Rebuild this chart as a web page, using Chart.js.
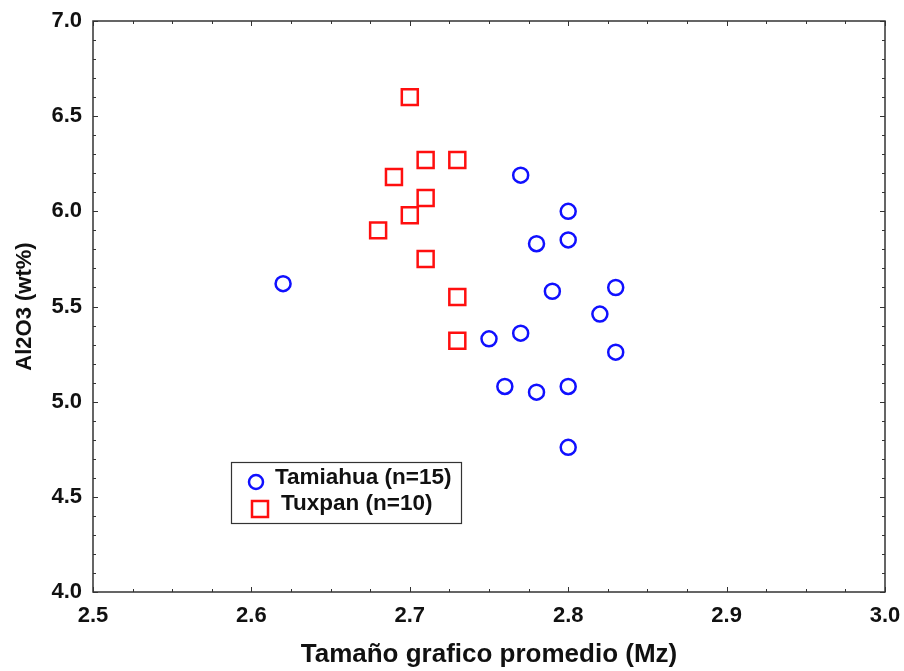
<!DOCTYPE html>
<html>
<head>
<meta charset="utf-8">
<script src="https://cdn.jsdelivr.net/npm/chart.js@4/dist/chart.umd.min.js"></script>
<style>
  html, body { margin: 0; padding: 0; background: #fff; }
  #grafica { display: block; }
</style>
</head>
<body>
<canvas id="grafica" width="904" height="671"></canvas>
<script>
// Tamaño grafico promedio (Mz) vs Al2O3 (wt%)
var tamiahuaMz = [2.62, 2.77, 2.80, 2.80, 2.78, 2.79, 2.83, 2.82, 2.77, 2.75, 2.83, 2.76, 2.78, 2.80, 2.80]
var tamiahuaAl = [5.62, 6.19, 6.00, 5.85, 5.83, 5.58, 5.60, 5.46, 5.36, 5.33, 5.26, 5.08, 5.05, 5.08, 4.76]
var tuxpanMz = [2.70, 2.71, 2.73, 2.69, 2.71, 2.70, 2.68, 2.71, 2.73, 2.73]
var tuxpanAl = [6.60, 6.27, 6.27, 6.18, 6.07, 5.98, 5.90, 5.75, 5.55, 5.32]

var etiquetas = ['Tamiahua (n=15)', 'Tuxpan (n=10)']
var xTicks = [2.5, 2.6, 2.7, 2.8, 2.9, 3.0]
var yTicks = [4.0, 4.5, 5.0, 5.5, 6.0, 6.5, 7.0]

const puntos = (xs, ys) => xs.map((x, i) => ({ x: x, y: ys[i] }))

const fuente = "'Liberation Sans', Arial, sans-serif"
const colorEje = '#333'

// marco del area y marcas hacia adentro en los cuatro lados
const marco = {
  id: 'marco',
  afterDraw(chart) {
    const { ctx, chartArea: a, scales } = chart
    ctx.save()
    ctx.strokeStyle = colorEje
    ctx.lineWidth = 1.5
    ctx.strokeRect(a.left, a.top, a.right - a.left, a.bottom - a.top)
    ctx.lineWidth = 1
    ctx.beginPath()
    const xs = scales.x
    for (let i = 0; i <= 20; i++) {
      const v = xTicks[0] + i * 0.025
      const px = Math.round(xs.getPixelForValue(v)) + 0.5
      const len = i % 4 === 0 ? 5 : 3
      ctx.moveTo(px, a.bottom); ctx.lineTo(px, a.bottom - len)
      ctx.moveTo(px, a.top); ctx.lineTo(px, a.top + len)
    }
    const ys = scales.y
    for (let i = 0; i <= 30; i++) {
      const v = yTicks[0] + i * 0.1
      const py = Math.round(ys.getPixelForValue(v)) + 0.5
      const len = i % 5 === 0 ? 5 : 3
      ctx.moveTo(a.left, py); ctx.lineTo(a.left + len, py)
      ctx.moveTo(a.right, py); ctx.lineTo(a.right - len, py)
    }
    ctx.stroke()
    ctx.restore()
  }
}

// leyenda dentro del area del grafico
const leyenda = {
  id: 'leyenda',
  afterDraw(chart) {
    const { ctx, chartArea: a } = chart
    const left = a.left + 138, top = a.bottom - 130, w = 230, h = 61
    ctx.save()
    ctx.fillStyle = '#fff'
    ctx.fillRect(left, top, w, h)
    ctx.strokeStyle = colorEje
    ctx.lineWidth = 1.2
    ctx.strokeRect(left + 0.5, top + 0.5, w, h)
    ctx.font = 'bold 22.5px ' + fuente
    ctx.textBaseline = 'middle'
    ctx.fillStyle = '#111'
    chart.data.datasets.forEach((ds, i) => {
      const cy = top + 20 + i * 26
      ctx.strokeStyle = ds.borderColor
      ctx.lineWidth = 2.5
      ctx.beginPath()
      if (ds.pointStyle === 'circle') {
        ctx.arc(left + 25, cy, 7, 0, Math.PI * 2)
        ctx.stroke()
        ctx.fillText(ds.label, left + 44, cy - 4)
      } else {
        ctx.strokeRect(left + 21, cy - 7, 16, 16)
        ctx.fillText(ds.label, left + 50, cy - 4)
      }
    })
    ctx.restore()
  }
}

var ctx = document.getElementById('grafica')

var grafica = new Chart(ctx, {
  type: 'scatter',
  data: {
    datasets: [{
      label: etiquetas[0],
      data: puntos(tamiahuaMz, tamiahuaAl),
      pointStyle: 'circle',
      pointRadius: 7.5,
      borderColor: '#1010ff',
      backgroundColor: 'rgba(0,0,0,0)',
      borderWidth: 2.5
    }, {
      label: etiquetas[1],
      data: puntos(tuxpanMz, tuxpanAl),
      pointStyle: 'rect',
      pointRadius: 11.3,
      borderColor: '#ff0f0f',
      backgroundColor: 'rgba(0,0,0,0)',
      borderWidth: 2.5
    }]
  },
  options: {
    responsive: false,
    animation: false,
    devicePixelRatio: 1,
    layout: { padding: { top: 21, right: 19, bottom: 0, left: 0 } },
    plugins: {
      legend: { display: false },
      tooltip: { enabled: false }
    },
    scales: {
      x: {
        type: 'linear',
        min: xTicks[0],
        max: xTicks[xTicks.length - 1],
        afterFit: s => {
          s.height = 79
          s.paddingLeft = 0
          s.paddingRight = 0
        },
        afterBuildTicks: s => { s.ticks = xTicks.map(v => ({ value: v })) },
        grid: { display: false, drawTicks: false },
        border: { display: false },
        ticks: {
          padding: 11,
          color: '#111',
          font: { family: fuente, size: 22, weight: 'bold' },
          callback: v => v.toFixed(1)
        },
        title: {
          display: true,
          text: 'Tamaño grafico promedio (Mz)',
          color: '#111',
          font: { family: fuente, size: 26, weight: 'bold' },
          padding: { top: 0, bottom: 1 }
        }
      },
      y: {
        type: 'linear',
        min: yTicks[0],
        max: yTicks[yTicks.length - 1],
        afterFit: s => {
          s.width = 93
          s.paddingTop = 0
          s.paddingBottom = 0
        },
        afterBuildTicks: s => { s.ticks = yTicks.map(v => ({ value: v })) },
        grid: { display: false, drawTicks: false },
        border: { display: false },
        ticks: {
          padding: 11,
          color: '#111',
          font: { family: fuente, size: 22, weight: 'bold' },
          callback: v => v.toFixed(1)
        },
        title: {
          display: true,
          text: 'Al2O3 (wt%)',
          color: '#111',
          font: { family: fuente, size: 22, weight: 'bold' },
          padding: { top: 12, bottom: 0 }
        }
      }
    }
  },
  plugins: [marco, leyenda]
})
</script>
</body>
</html>
